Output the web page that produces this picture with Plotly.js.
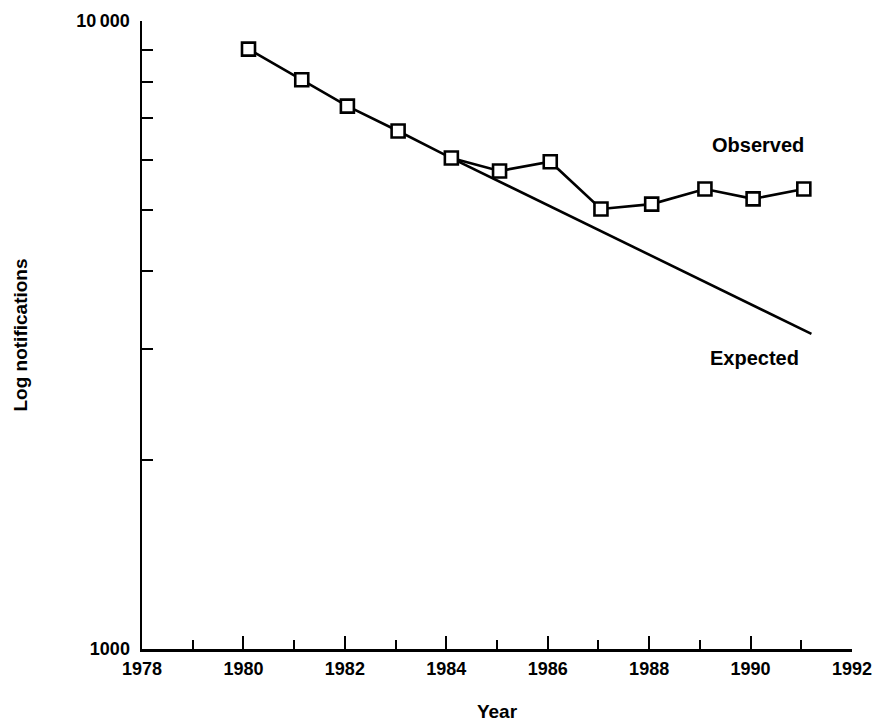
<!DOCTYPE html>
<html>
<head>
<meta charset="utf-8">
<script src="https://cdn.plot.ly/plotly-3.0.1.min.js"></script>
<style>html,body{margin:0;padding:0;background:#fff;}#chart{width:873px;height:722px;}</style>
</head>
<body>
<div id="chart"></div>
<script>
// Observed notifications
const obsYears = [1980.1, 1981.15, 1982.05, 1983.05, 1984.1, 1985.05, 1986.05, 1987.05, 1988.05, 1989.1, 1990.05, 1991.05];
const obsValues = [9020, 8060, 7320, 6680, 6050, 5770, 5970, 5020, 5110, 5400, 5210, 5400];
// Expected trend (log-linear) continuing from 1984
const expYears = [1984.1, 1991.2];
const expValues = [6050, 3175];
// Axis ticks
const xTickVals = [1978, 1980, 1982, 1984, 1986, 1988, 1990, 1992];
const xTickText = ['1978', '1980', '1982', '1984', '1986', '1988', '1990', '1992'];
const yTickVals = [1000, 2000, 3000, 4000, 5000, 6000, 7000, 8000, 9000, 10000];
const yTickText = ['1000', '', '', '', '', '', '', '', '', '10\u2009000'];

const FONT = 'Liberation Sans, Arial, sans-serif';

const traces = [
  {
    x: expYears, y: expValues, mode: 'lines', name: 'Expected',
    line: {color: '#000', width: 2.6}, hoverinfo: 'skip'
  },
  {
    x: obsYears, y: obsValues, mode: 'lines+markers', name: 'Observed',
    line: {color: '#000', width: 2.6},
    marker: {symbol: 'square', size: 13, color: '#fff', line: {color: '#000', width: 2.6}}
  }
];

const layout = {
  width: 873, height: 722,
  margin: {l: 142, r: 21, t: 21, b: 73},
  paper_bgcolor: '#fff', plot_bgcolor: '#fff',
  showlegend: false,
  font: {family: FONT, color: '#000', size: 18, weight: 'bold'},
  xaxis: {
    range: [1978, 1992],
    tickvals: xTickVals, ticktext: xTickText,
    ticks: 'inside', ticklen: 13, tickwidth: 2, tickcolor: '#000',
    minor: {dtick: 1, tick0: 1978, ticks: 'inside', ticklen: 9, tickwidth: 2, tickcolor: '#000', showgrid: false},
    showline: true, linecolor: '#000', linewidth: 2.5,
    showgrid: false, zeroline: false,
    tickfont: {family: FONT, size: 18, color: '#000', weight: 'bold'},
    ticklabelstandoff: 2,
    title: {text: 'Year', font: {family: FONT, size: 19, color: '#000', weight: 'bold'}, standoff: 28}
  },
  yaxis: {
    type: 'log',
    range: [3, 4],
    tickvals: yTickVals, ticktext: yTickText,
    ticks: 'inside', ticklen: 11, tickwidth: 2, tickcolor: '#000',
    showline: true, linecolor: '#000', linewidth: 2.5,
    showgrid: false, zeroline: false,
    tickfont: {family: FONT, size: 18, color: '#000', weight: 'bold'},
    ticklabelstandoff: 6,
    title: {text: 'Log notifications', font: {family: FONT, size: 19, color: '#000', weight: 'bold'}, standoff: 44}
  },
  annotations: [
    {xref: 'paper', yref: 'paper', x: 0.868, y: 0.8025, text: 'Observed', showarrow: false,
     font: {family: FONT, size: 20, color: '#000', weight: 'bold'}, xanchor: 'center', yanchor: 'middle'},
    {xref: 'paper', yref: 'paper', x: 0.863, y: 0.463, text: 'Expected', showarrow: false,
     font: {family: FONT, size: 20, color: '#000', weight: 'bold'}, xanchor: 'center', yanchor: 'middle'}
  ]
};

Plotly.newPlot('chart', traces, layout, {displayModeBar: false, staticPlot: true});
</script>
</body>
</html>
